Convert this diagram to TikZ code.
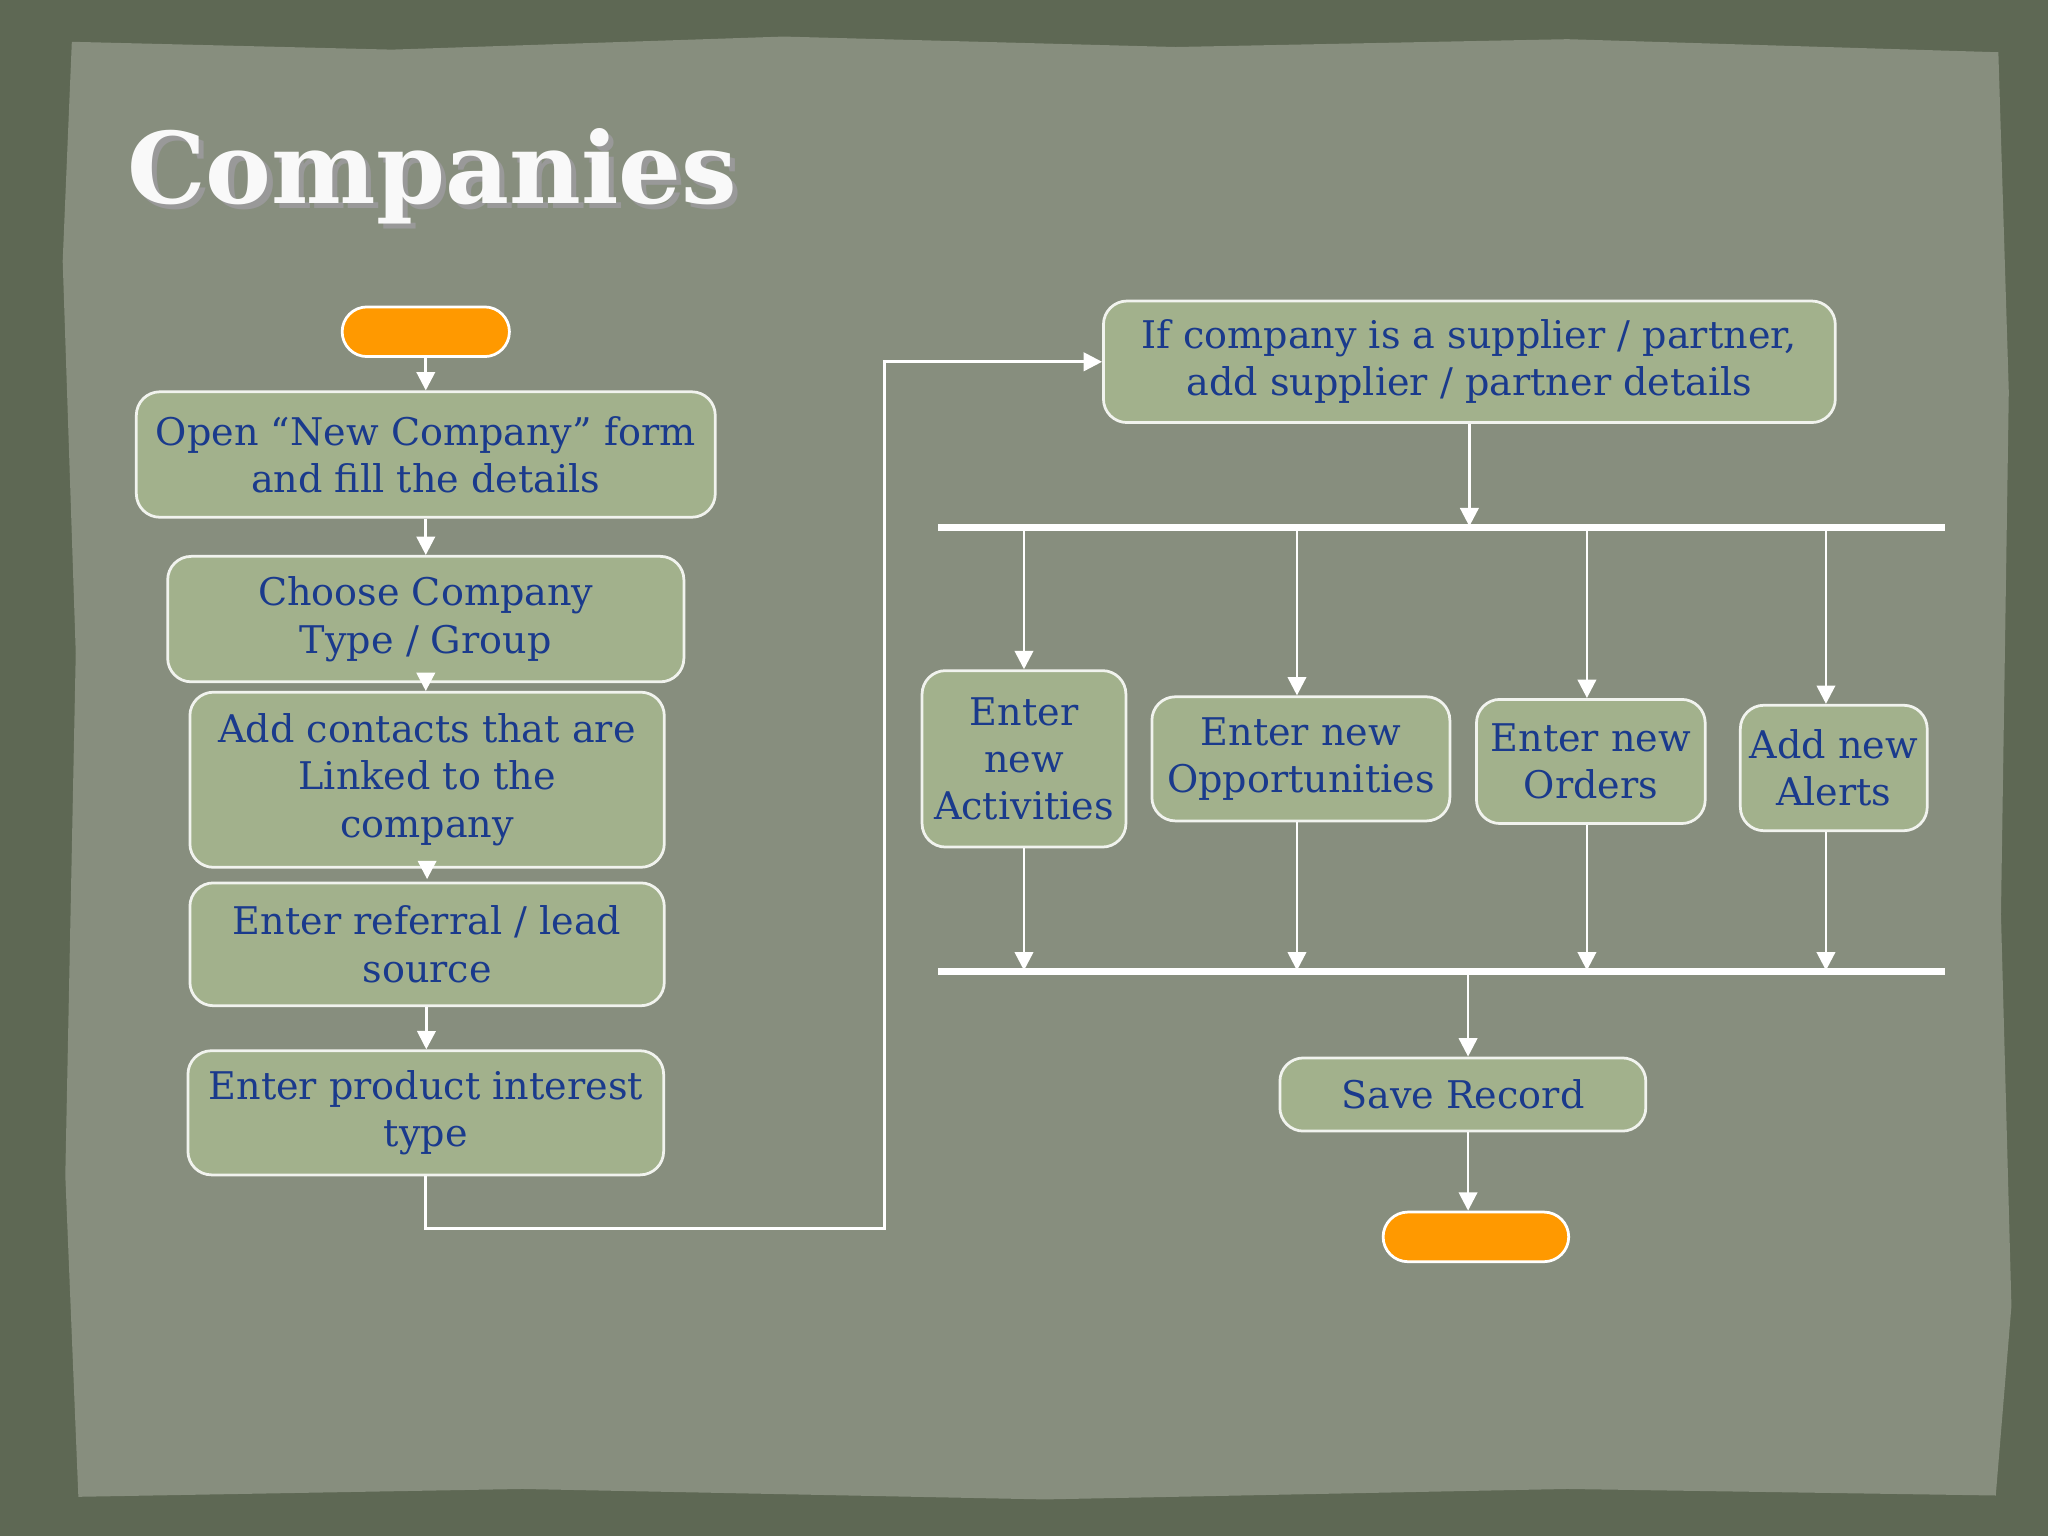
\documentclass[tikz,border=0pt]{standalone}
\usepackage{fontspec}
\setmainfont{DejaVu Serif}
\usetikzlibrary{arrows.meta}
\definecolor{frame}{HTML}{5E6854}
\definecolor{paper}{HTML}{878E7E}
\definecolor{boxfill}{HTML}{A2B18C}
\definecolor{txt}{HTML}{1A3A8C}
\definecolor{orng}{HTML}{FF9900}
\tikzset{
  stepbox/.style={draw=white!85!boxfill, line width=0.6pt, fill=boxfill, rounded corners=0.18cm,
    text=txt, font=\fontsize{8.3}{10.3}\selectfont, align=center, inner sep=0pt},
  term/.style={draw=white, line width=0.6pt, fill=orng, rounded corners=0.19cm, inner sep=0pt},
  arr/.style={draw=white, line width=0.6pt, -{Triangle[length=4pt,width=4pt]}},
  bar/.style={draw=white, line width=1.6pt}
}
\begin{document}
\begin{tikzpicture}[x=0.01cm,y=-0.01cm]
\fill[frame] (0,0) rectangle (1568,1176);
\fill[paper] (55,32) -- (300,38) -- (600,28) -- (900,36) -- (1200,30) -- (1530,40) -- (1538,300) -- (1532,700) -- (1540,1000) -- (1528,1145) -- (1200,1140) -- (800,1148) -- (400,1140) -- (60,1146) -- (50,900) -- (58,500) -- (48,200) -- cycle;
\node[anchor=west, text=black!40, font=\fontsize{21.5}{26}\bfseries\selectfont] at (89,139) {Companies};
\node[anchor=west, text=white!95!gray, font=\fontsize{21.5}{26}\bfseries\selectfont] at (85,135) (title) {Companies};

\node[term, minimum width=1.28cm, minimum height=0.38cm] (start) at (326,254) {};
\node[stepbox, minimum width=4.43cm, minimum height=0.96cm] (open) at (326,348) {Open “New Company” form\\and fill the details};
\node[stepbox, minimum width=3.95cm, minimum height=0.96cm] (choose) at (326,474) {Choose Company\\Type / Group};
\node[stepbox, minimum width=3.63cm, minimum height=1.34cm] (contacts) at (327,597) {Add contacts that are\\Linked to the\\company};
\node[stepbox, minimum width=3.63cm, minimum height=0.94cm] (referral) at (327,723) {Enter referral / lead\\source};
\node[stepbox, minimum width=3.64cm, minimum height=0.95cm] (product) at (326,852) {Enter product interest\\type};
\node[stepbox, minimum width=5.6cm, minimum height=0.93cm] (supplier) at (1125,277) {If company is a supplier / partner,\\add supplier / partner details};
\node[stepbox, minimum width=1.56cm, minimum height=1.35cm] (act) at (784,581) {Enter\\new\\Activities};
\node[stepbox, minimum width=2.28cm, minimum height=0.95cm] (opp) at (996,581) {Enter new\\Opportunities};
\node[stepbox, minimum width=1.75cm, minimum height=0.95cm] (ord) at (1218,583) {Enter new\\Orders};
\node[stepbox, minimum width=1.43cm, minimum height=0.96cm] (alr) at (1404,588) {Add new\\Alerts};
\node[stepbox, minimum width=2.8cm, minimum height=0.56cm] (save) at (1120,838) {Save Record};
\node[term, minimum width=1.42cm, minimum height=0.38cm] (stop) at (1130,947) {};

\coordinate (b1l) at (718,404); \coordinate (b1r) at (1489,404);
\coordinate (b2l) at (718,744); \coordinate (b2r) at (1489,744);
\draw[bar] (b1l) -- (b1r);
\draw[bar] (b2l) -- (b2r);

\draw[arr] (start) -- (open);
\draw[arr] (open) -- (choose);
\draw[arr] (choose.south) -- ++(0,6);
\draw[arr] (contacts.south) -- ++(0,8);
\draw[arr] (referral) -- (product);
\draw[arr] (product.south) -- ++(0,40) -| (677,277) -- (supplier.west);
\draw[arr] (supplier.south) -- (1125,403);
\foreach \n/\x in {act/784,opp/993,ord/1215,alr/1398}{
  \draw[arr] (\x,405) -- (\x,0 |- \n.north);
  \draw[arr] (\x,0 |- \n.south) -- (\x,743);
}
\draw[arr] (1124,745) -- (1124,0 |- save.north);
\draw[arr] (1124,0 |- save.south) -- (1124,0 |- stop.north);
\end{tikzpicture}
\end{document}
